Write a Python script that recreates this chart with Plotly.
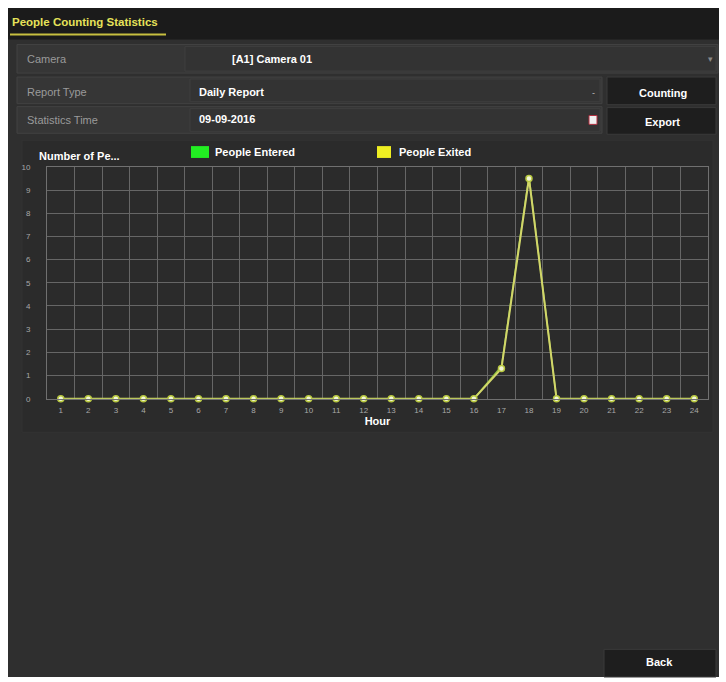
import plotly.graph_objects as go

W, H = 726, 682

hours = list(range(1, 25))
hour_labels = [str(h) for h in hours]
people_entered = [0, 0, 0, 0, 0, 0, 0, 0, 0, 0, 0, 0, 0, 0, 0, 0, 1.4, 9.6, 0, 0, 0, 0, 0, 0]
people_exited = [0, 0, 0, 0, 0, 0, 0, 0, 0, 0, 0, 0, 0, 0, 0, 0, 1.3, 9.5, 0, 0, 0, 0, 0, 0]
y_ticks = list(range(0, 11))

FONT = "Liberation Sans"


def X(p):
    return p / W


def Y(p):
    return 1 - p / H


shapes = []
annotations = []


def rect(x0, y0, x1, y1, fill, line=None, lw=1):
    shapes.append(dict(type="rect", xref="paper", yref="paper",
                       x0=X(x0), x1=X(x1), y0=Y(y1), y1=Y(y0),
                       fillcolor=fill, line=dict(color=line or fill, width=lw if line else 0),
                       layer="below"))


def text(x, y, s, color="#ffffff", size=11, bold=True, anchor="left"):
    annotations.append(dict(xref="paper", yref="paper", x=X(x), y=Y(y), text=("<b>%s</b>" % s) if bold else s,
                            showarrow=False, xanchor=anchor, yanchor="middle",
                            font=dict(family=FONT, size=size, color=color)))


# main panel
rect(8, 4, 719, 682, "#2f2f2f")
# title bar
rect(8, 4, 719, 36, "#1b1b1b")
rect(10, 30, 166, 32, "#c8c040")
text(10, 18, "People Counting Statistics", color="#e6e25a", size=11.5)

# rows
rect(17, 41, 718, 70, "#363636", "#424242")
rect(185, 43, 716, 68, "#333333", "#3e3e3e")
text(25, 56, "Camera", color="#9a9a9a", size=11, bold=False)
text(230, 56, "[A1] Camera 01", size=11)
text(710, 56, "▾", color="#8a8a8a", size=9, bold=False, anchor="center")

rect(17, 74, 602, 101, "#363636", "#424242")
rect(190, 76, 600, 99, "#333333", "#3e3e3e")
text(25, 89, "Report Type", color="#9a9a9a", size=11, bold=False)
text(197, 89, "Daily Report", size=11)
text(593, 90, "-", color="#bbbbbb", size=9, bold=False, anchor="center")

rect(17, 104, 602, 131, "#363636", "#424242")
rect(190, 106, 600, 129, "#333333", "#3e3e3e")
text(25, 118, "Statistics Time", color="#9a9a9a", size=11, bold=False)
text(197, 117, "09-09-2016", size=11)
rect(589, 113, 597, 122, "#f0f0f0", "#b03040")

# buttons
rect(607, 74, 716, 102, "#1e1e1e", "#3a3a3a")
text(663, 90, "Counting", size=11, anchor="center")
rect(607, 105, 716, 132, "#1e1e1e", "#3a3a3a")
text(662, 120, "Export", size=11, anchor="center")

# chart panel
rect(22, 138, 713, 434, "#2b2b2b", "#333333")
text(37, 154, "Number of Pe...", size=11)

# legend
rect(191, 144, 209, 156, "#22ee22")
text(213, 150, "People Entered", size=11)
rect(377, 144, 391, 156, "#eeee22")
text(397, 150, "People Exited", size=11)

# back button
rect(604, 654, 716, 682, "#1e1e1e", "#3a3a3a")
text(659, 667, "Back", size=11, anchor="center")

fig = go.Figure()
fig.add_trace(go.Scatter(x=hours, y=people_entered, mode="lines", name="People Entered",
                         line=dict(color="#8cc43c", width=1.5), cliponaxis=False, showlegend=False))
fig.add_trace(go.Scatter(x=hours, y=people_exited, mode="lines+markers", name="People Exited",
                         line=dict(color="#d2d66a", width=2),
                         marker=dict(size=6, color="#f2f6d8", line=dict(color="#b8c840", width=1.5)),
                         cliponaxis=False, showlegend=False))

fig.update_layout(
    width=W, height=H,
    margin=dict(l=0, r=0, t=0, b=0),
    paper_bgcolor="#ffffff",
    plot_bgcolor="#282828",
    shapes=shapes,
    annotations=annotations,
    xaxis=dict(domain=[X(47), X(708)], range=[0.5, 24.5],
               tickmode="array", tickvals=hours, ticktext=hour_labels,
               showgrid=False, zeroline=False,
               showline=True, linecolor="#707070", mirror=True,
               ticks="", ticklabelstandoff=4,
               tickfont=dict(family=FONT, size=8, color="#a8a8a8"),
               minor=dict(tick0=0.5, dtick=1, showgrid=True, gridcolor="#666666", gridwidth=1),
               title=dict(text="<b>Hour</b>", standoff=2,
                          font=dict(family=FONT, size=11, color="#ffffff"))),
    yaxis=dict(domain=[Y(400), Y(165)], range=[0, 10],
               tickmode="array", tickvals=y_ticks,
               showgrid=True, gridcolor="#666666", gridwidth=1, zeroline=False,
               showline=True, linecolor="#707070", mirror=True,
               ticks="", ticklabelstandoff=14,
               tickfont=dict(family=FONT, size=8, color="#a8a8a8")),
)

fig.write_html("out.html", config={"displayModeBar": False},
               post_script="document.body.style.margin='0';document.body.style.overflow='hidden';")
